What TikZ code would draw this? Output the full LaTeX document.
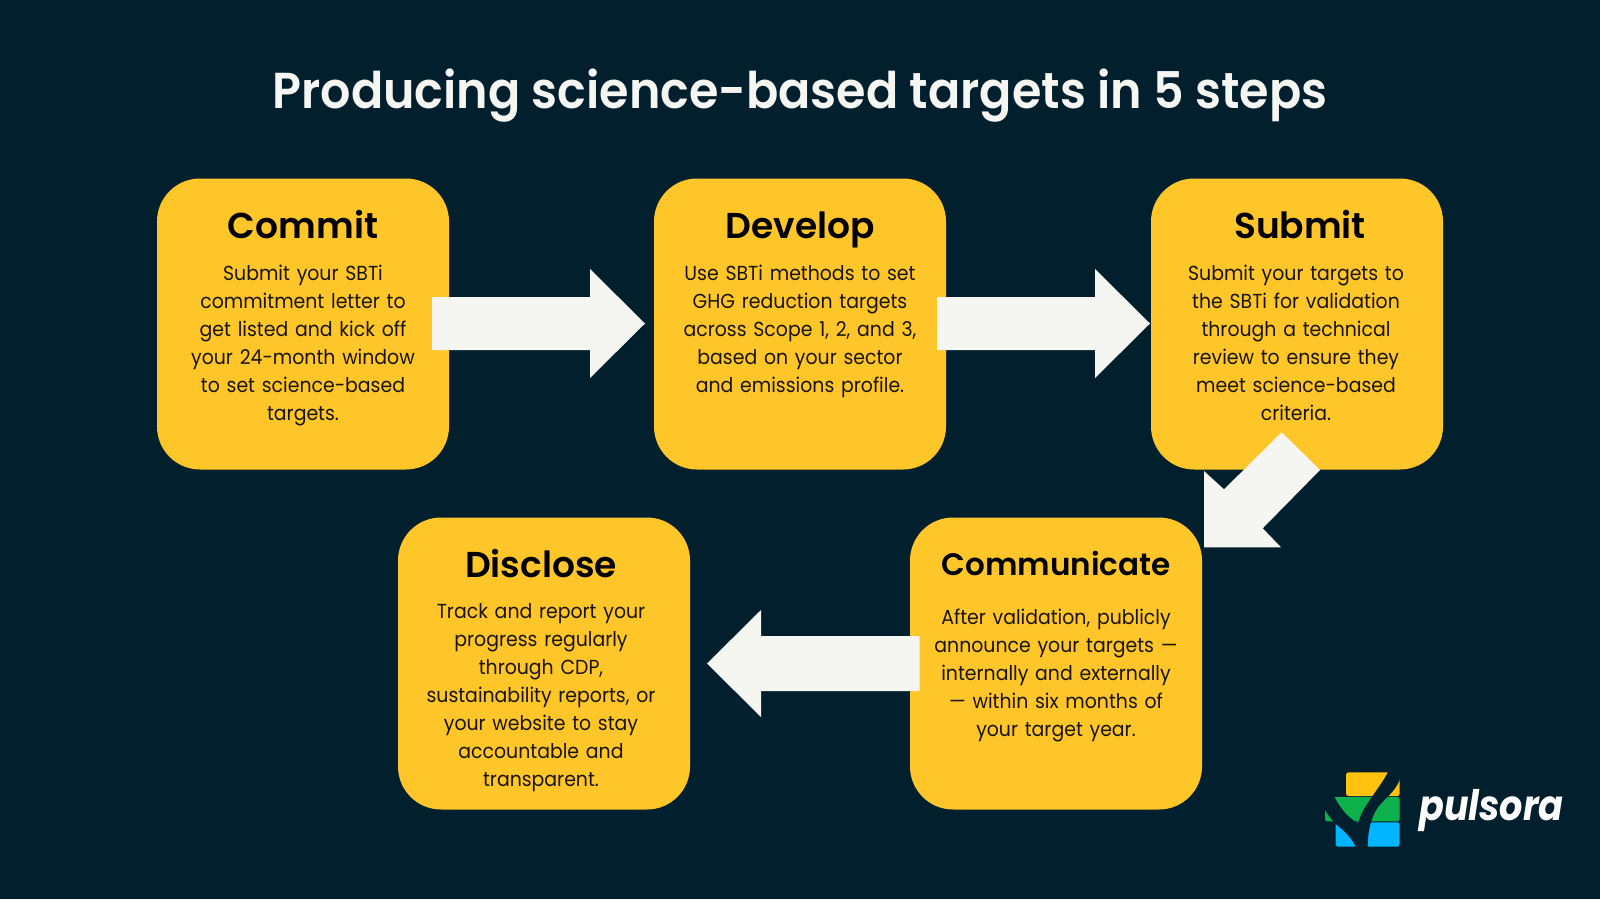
\documentclass[tikz,border=0pt]{standalone}
\usepackage{fontspec}
\setmainfont{Poppins}[FakeStretch=0.93,WordSpace=0.7]
\newfontfamily\titlef{Poppins}[UprightFont=*-SemiBold,BoldFont=*-SemiBold,FakeStretch=0.943]
\newfontfamily\headf{Poppins}[UprightFont=*-SemiBold,BoldFont=*-SemiBold]
\newfontfamily\logof{Poppins}[UprightFont=*-Bold Italic,FakeStretch=0.87]
\definecolor{bgc}{HTML}{011F2D}
\definecolor{boxc}{HTML}{FFC629}
\definecolor{arrc}{HTML}{F5F5F1}
\definecolor{lgy}{HTML}{FFC20E}
\definecolor{lgg}{HTML}{0DB14B}
\definecolor{lgb}{HTML}{00B5FF}
\tikzset{
 x=1pt,y=-1pt,
 card/.style={fill=boxc,rounded corners=43pt},
 cardhead/.style={font=\headf\fontsize{36}{40}\selectfont,text=black,anchor=base,inner sep=0pt},
 cardbody/.style={font=\fontsize{20.3}{28.05}\selectfont,text=black!90!boxc,align=center,anchor=north,inner sep=0pt,text width=290pt},
 arrowshape/.style={fill=arrc},
}
\begin{document}
\begin{tikzpicture}
\fill[bgc] (0,0) rectangle (1600,899);
\useasboundingbox (0,0) rectangle (1600,899);
\node[font=\titlef\fontsize{50.5}{56}\selectfont,text=arrc,inner sep=0pt] (title) at (800,96) {Producing science-based targets in 5 steps};
% cards
\fill[card] (157,178.5) rectangle (449,469.5);
\fill[card] (654,178.5) rectangle (946,469.5);
\fill[card] (1151,178.5) rectangle (1443,469.5);
\fill[card] (398,517.5) rectangle (690,809.5);
\fill[card] (910,517.5) rectangle (1202,809.5);
% arrows
\fill[arrowshape] (432,297)--(590,297)--(590,269)--(645,323.5)--(590,378)--(590,350)--(432,350)--cycle;
\fill[arrowshape] (937,297)--(1095,297)--(1095,269)--(1150,323.5)--(1095,378)--(1095,350)--(937,350)--cycle;
\fill[arrowshape] (1281.7,432.3)--(1320,470)--(1262.7,528.3)--(1281,547.3)--(1204,547.3)--(1204,471)--(1224,489.3)--cycle;
\fill[arrowshape] (919.5,636)--(761,636)--(761,610)--(707,663.5)--(761,717)--(761,691)--(919.5,691)--cycle;
% text
\node[cardhead] (h1) at (303,238) {Commit};
\node[cardhead] (h2) at (800,238) {Develop};
\node[cardhead] (h3) at (1300,238) {Submit};
\node[cardhead] (h4) at (541,577) {Disclose};
\node[cardhead,font=\headf\fontsize{31}{36}\selectfont] (h5) at (1056,575) {Communicate};
\node[cardbody] (b1) at (303,265) {Submit your SBTi\\commitment letter to\\get listed and kick off\\your 24-month window\\to set science-based\\targets.};
\node[cardbody] (b2) at (800,265) {Use SBTi methods to set\\GHG reduction targets\\across Scope 1, 2, and 3,\\based on your sector\\and emissions profile.};
\node[cardbody] (b3) at (1296,265) {Submit your targets to\\the SBTi for validation\\through a technical\\review to ensure they\\meet science-based\\criteria.};
\node[cardbody] (b4) at (541,603) {Track and report your\\progress regularly\\through CDP,\\sustainability reports, or\\your website to stay\\accountable and\\transparent.};
\node[cardbody] (b5) at (1056,609) {After validation, publicly\\announce your targets —\\internally and externally\\— within six months of\\your target year.};
% logo
\begin{scope}[shift={(1300,750)},x=0.3333pt,y=-0.3333pt]
\fill[lgy,rounded corners=2.5pt] (138,67) rectangle (299,138);
\fill[lgg,rounded corners=2.5pt] (75,141) rectangle (299,214);
\fill[lgb,rounded corners=2.5pt] (107,217) rectangle (299,290);
% left branch
\fill[bgc] (70,135) -- (103,135) -- (103,140) .. controls (120,175) and (145,205) .. (178,222) -- (205,292) -- (168,292) .. controls (155,262) and (130,240) .. (107,222) .. controls (95,210) and (85,195) .. (75,180) -- (70,175) -- cycle;
% right stem
\fill[bgc] (265,64) .. controls (245,105) and (205,150) .. (185,190) .. controls (170,225) and (165,260) .. (165,292) -- (203,292) .. controls (203,250) and (210,205) .. (235,170) .. controls (255,145) and (285,125) .. (299,90) -- (302,64) -- cycle;
\end{scope}
\node[font=\logof\fontsize{42}{46}\selectfont,text=white,inner sep=0pt,anchor=base west] (logo) at (1419,820) {pulsora};
\end{tikzpicture}
\end{document}
